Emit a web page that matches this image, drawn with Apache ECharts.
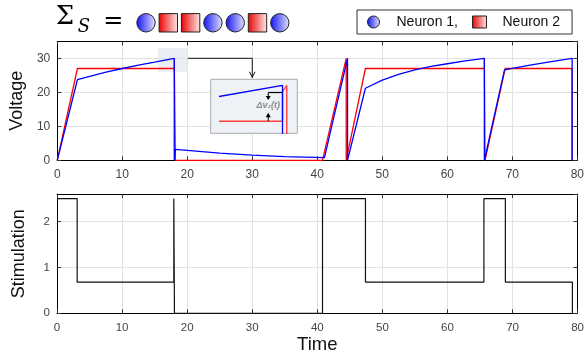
<!DOCTYPE html>
<html><head><meta charset="utf-8">
<script src="https://cdn.jsdelivr.net/npm/echarts@6/dist/echarts.min.js"></script>
<style>html,body{margin:0;padding:0;background:#fff}#c{width:587px;height:362px}</style>
</head><body><div id="c"></div>
<script>
// ---- data ----
const neuron1 = [[0,0],[3.1,23.7],[5,24.7],[7.5,25.9],[10,27.0],[12.5,28.0],[15,28.9],[18,30],[18,0],[18.17,0],[18.17,3.2],[20,2.9],[25,2.1],[30,1.55],[35,1.1],[41.1,0.8],[44.65,30],[44.65,0],[47.4,21.2],[50,23.6],[52.5,25.3],[55,26.6],[57.5,27.6],[60,28.4],[62.5,29.2],[65.7,30],[65.7,0],[68.8,26.6],[72.5,27.9],[76,29.0],[79.2,30],[79.2,0]];
const neuron2 = [[0,0],[3.1,27],[18,27],[18,29.45],[18.17,30],[18.17,0],[40.8,0],[44.45,30],[44.45,0],[47.4,27],[65.7,27],[65.7,29.5],[65.8,30],[65.8,0],[68.9,27],[79.2,27],[79.2,0]];
const stimulation = [[0,2.5],[3.1,2.5],[3.1,0.68],[17.95,0.68],[17.95,2.5],[18.05,2.5],[18.05,0],[40.8,0],[40.8,2.5],[47.4,2.5],[47.4,0.68],[65.6,0.68],[65.6,2.5],[68.9,2.5],[68.9,0.68],[79.2,0.68],[79.2,0]];
const spikeOrder = ['Neuron 1','Neuron 2','Neuron 2','Neuron 1','Neuron 1','Neuron 2','Neuron 1'];
const legendNames = ['Neuron 1','Neuron 2'];
const legendLabels = ['Neuron 1,','Neuron 2'];
const timeAxis = [0, 80, 10];
const voltageAxis = [0, 35, 10];
const stimAxis = [0, 2.6, 1];
const zoomWindowT = [15.5, 20.1];
const zoomWindowV = [26, 33];
const insetT = [15.5, 18.58];
const insetV = [26, 30.5];
const deltaV = [17.43, 29.4];

const FONT = '"Liberation Sans", Arial, sans-serif';
const BLUE = '#0000ff', RED = '#ff0000';
const blueGrad = {type:'linear',x:0,y:0,x2:1,y2:0,colorStops:[{offset:0,color:'#1010f0'},{offset:1,color:'#e4e4ff'}]};
const redGrad = {type:'linear',x:0,y:0,x2:1,y2:0,colorStops:[{offset:0,color:'#e80000'},{offset:1,color:'#ffeaea'}]};

const chart = echarts.init(document.getElementById('c'), null, {renderer:'canvas'});

function mainX(gi, labelSize, labelMargin, extra) {
  return Object.assign({
    type:'value', gridIndex:gi, min:timeAxis[0], max:timeAxis[1], interval:timeAxis[2], position:'bottom',
    axisLine:{show:true, onZero:false, lineStyle:{color:'#000', width:1}},
    axisTick:{show:true, inside:true, length:4, lineStyle:{color:'#333'}},
    axisLabel:{show:true, fontSize:labelSize, color:'#444', fontFamily:FONT, margin:labelMargin},
    splitLine:{show:true, lineStyle:{color:'#e2e2e2', width:1}}
  }, extra || {});
}
function mirrorX(gi) {
  return {type:'value', gridIndex:gi, min:timeAxis[0], max:timeAxis[1], interval:timeAxis[2], position:'top',
    axisLine:{show:true, onZero:false, lineStyle:{color:'#000', width:1}},
    axisTick:{show:true, inside:true, length:4, lineStyle:{color:'#333'}},
    axisLabel:{show:false}, splitLine:{show:false}};
}
function mainY(gi, rng, name, gap, labelSize) {
  return {type:'value', gridIndex:gi, min:rng[0], max:rng[1], interval:rng[2], position:'left',
    name:name, nameLocation:'middle', nameGap:gap, nameRotate:90,
    nameTextStyle:{fontSize:18, color:'#111', fontFamily:FONT},
    axisLine:{show:true, onZero:false, lineStyle:{color:'#000', width:1}},
    axisTick:{show:true, inside:true, length:4, lineStyle:{color:'#333'}},
    axisLabel:{show:true, fontSize:labelSize, color:'#444', fontFamily:FONT, margin:7, showMaxLabel:false},
    splitLine:{show:true, lineStyle:{color:'#e2e2e2', width:1}}};
}
function mirrorY(gi, rng) {
  return {type:'value', gridIndex:gi, min:rng[0], max:rng[1], interval:rng[2], position:'right',
    axisLine:{show:true, onZero:false, lineStyle:{color:'#000', width:1}},
    axisTick:{show:true, inside:true, length:4, lineStyle:{color:'#333'}},
    axisLabel:{show:false}, splitLine:{show:false}};
}

const option = {
  animation:false,
  backgroundColor:'#fff',
  grid:[
    {left:57, top:41.3, width:522, height:119},
    {left:57, top:194, width:522, height:119.3},
    {left:220, top:79.3, width:77, height:54}
  ],
  xAxis:[
    mainX(0, 12, 8),
    mirrorX(0),
    mainX(1, 11.5, 9, {name:'Time', nameLocation:'middle', nameGap:18, nameTextStyle:{fontSize:18.5, color:'#111', fontFamily:FONT}}),
    mirrorX(1),
    {type:'value', gridIndex:2, min:insetT[0], max:insetT[1], show:false}
  ],
  yAxis:[
    mainY(0, voltageAxis, 'Voltage', 30, 12),
    mirrorY(0, voltageAxis),
    mainY(1, stimAxis, 'Stimulation', 29, 11.5),
    mirrorY(1, stimAxis),
    {type:'value', gridIndex:2, min:insetV[0], max:insetV[1], show:false}
  ],
  legend:{
    left:357, top:10, padding:[5,12,5,10],
    borderColor:'#333', borderWidth:1, backgroundColor:'#fff',
    itemWidth:14, itemHeight:12, itemGap:14, selectedMode:false,
    data:[
      {name:legendNames[0], icon:'circle', itemStyle:{color:blueGrad, borderColor:'#222', borderWidth:1}},
      {name:legendNames[1], icon:'rect', itemStyle:{color:redGrad, borderColor:'#222', borderWidth:1}}
    ],
    formatter: n => '{g|}' + legendLabels[legendNames.indexOf(n)],
    textStyle:{fontSize:14, color:'#111', fontFamily:FONT, rich:{g:{width:11}}}
  },
  series:[
    {name:legendNames[1], type:'line', xAxisIndex:0, yAxisIndex:0, data:neuron2, showSymbol:false, symbol:'none',
     lineStyle:{color:RED, width:1.3}, itemStyle:{color:RED}, z:3},
    {name:legendNames[0], type:'line', xAxisIndex:0, yAxisIndex:0, data:neuron1, showSymbol:false, symbol:'none',
     lineStyle:{color:BLUE, width:1.3}, itemStyle:{color:BLUE}, z:4,
     markArea:{silent:true, itemStyle:{color:'rgba(222,228,238,0.6)', borderWidth:0},
       data:[[{coord:[zoomWindowT[0], zoomWindowV[1]]},{coord:[zoomWindowT[1], zoomWindowV[0]]}]]}},
    {name:'Stimulation', type:'line', xAxisIndex:2, yAxisIndex:2, data:stimulation, showSymbol:false, symbol:'none',
     lineStyle:{color:'#111', width:1.2}, z:3},
    {name:'n2inset', type:'line', xAxisIndex:4, yAxisIndex:4, data:neuron2, showSymbol:false, symbol:'none', clip:true,
     lineStyle:{color:'#ff4040', width:1.4}, z:21},
    {name:'n1inset', type:'line', xAxisIndex:4, yAxisIndex:4, data:neuron1, showSymbol:false, symbol:'none', clip:true,
     lineStyle:{color:BLUE, width:1.3}, z:22}
  ]
};
chart.setOption(option);

// ---- annotations (header, connector, inset frame, delta-v marker) ----
const g = [];
g.push({type:'text', x:65, y:17, z:50, style:{text:'Σ', fontSize:26, fontFamily:'"DejaVu Serif", serif', fill:'#000', align:'center', verticalAlign:'middle'}});
g.push({type:'text', x:84, y:27.5, z:50, style:{text:'S', fontSize:18, fontStyle:'italic', fontFamily:'"DejaVu Serif", serif', fill:'#000', align:'center', verticalAlign:'middle'}});
g.push({type:'text', x:113.3, y:21.7, z:50, style:{text:'=', fontSize:24, fontFamily:'"DejaVu Serif", serif', fill:'#000', align:'center', verticalAlign:'middle'}});
spikeOrder.forEach((n, i) => {
  const cx = 146 + 22.3 * i, cy = 22.8;
  if (n === legendNames[0]) {
    g.push({type:'circle', z:50, shape:{cx:cx, cy:cy, r:9.2}, style:{fill:blueGrad, stroke:'#222', lineWidth:1}});
  } else {
    g.push({type:'rect', z:50, shape:{x:cx-9.2, y:cy-9.2, width:18.4, height:18.4}, style:{fill:redGrad, stroke:'#222', lineWidth:1}});
  }
});
// inset frame
const ib = [210.7, 79.3, 86.6, 54];
g.push({type:'rect', z:1, shape:{x:ib[0], y:ib[1], width:ib[2], height:ib[3]}, style:{fill:'#eef1f6', stroke:'#aaaaaa', lineWidth:1}});
// connector from zoom window to inset
const pA = chart.convertToPixel({xAxisIndex:0, yAxisIndex:0}, [zoomWindowT[1], 30]);
const pB = chart.convertToPixel({xAxisIndex:0, yAxisIndex:0}, [30, 30]);
g.push({type:'polyline', z:30, shape:{points:[pA, pB, [pB[0], ib[1]-1.5]]}, style:{stroke:'#111', lineWidth:1, fill:null}});
g.push({type:'polyline', z:30, shape:{points:[[pB[0]-2.8, ib[1]-7.5], [pB[0], ib[1]-2], [pB[0]+2.8, ib[1]-7.5]]}, style:{stroke:'#111', lineWidth:1, fill:null}});
// delta-v marker in the inset
const d1 = chart.convertToPixel({xAxisIndex:4, yAxisIndex:4}, deltaV);
const d2 = chart.convertToPixel({xAxisIndex:4, yAxisIndex:4}, [18, deltaV[1]]);
const dr = chart.convertToPixel({xAxisIndex:4, yAxisIndex:4}, [deltaV[0], 27]);
g.push({type:'line', z:30, shape:{x1:d1[0], y1:d1[1], x2:d2[0], y2:d2[1]}, style:{stroke:'#000', lineWidth:1.2}});
g.push({type:'line', z:30, shape:{x1:d1[0], y1:d1[1], x2:d1[0], y2:d1[1]+6}, style:{stroke:'#000', lineWidth:1}});
g.push({type:'polygon', z:30, shape:{points:[[d1[0]-2.5, d1[1]+3.5],[d1[0]+2.5, d1[1]+3.5],[d1[0], d1[1]+7.5]]}, style:{fill:'#000'}});
g.push({type:'line', z:30, shape:{x1:dr[0], y1:dr[1], x2:dr[0], y2:dr[1]-7}, style:{stroke:'#000', lineWidth:1}});
g.push({type:'polygon', z:30, shape:{points:[[dr[0]-2.5, dr[1]-4],[dr[0]+2.5, dr[1]-4],[dr[0], dr[1]-8.5]]}, style:{fill:'#000'}});
g.push({type:'text', z:30, x:d1[0], y:(d1[1]+dr[1])/2 - 1.5, style:{text:'Δv₂(t)', fontSize:9, fontWeight:'bold', fontStyle:'italic', fontFamily:FONT, fill:'#8a8a8a', align:'center', verticalAlign:'middle'}});
chart.setOption({graphic:g});
</script></body></html>
